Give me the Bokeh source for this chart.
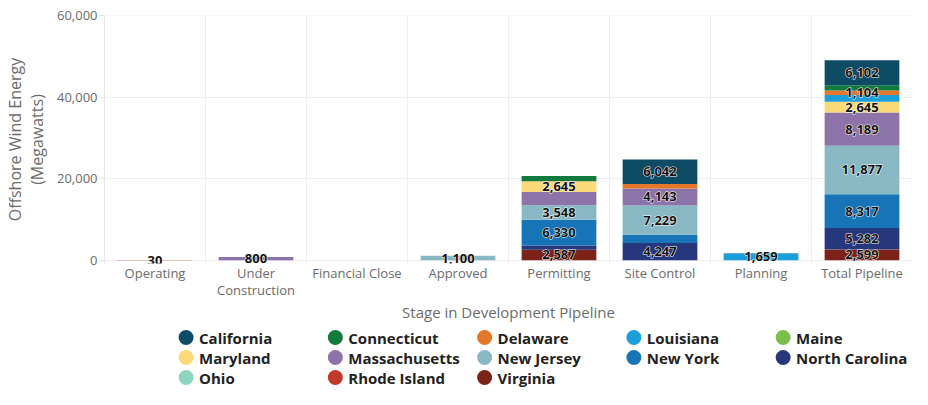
from bokeh.plotting import figure
from bokeh.models import ColumnDataSource, Range1d, FixedTicker, NumeralTickFormatter
from bokeh.layouts import column
from bokeh.core.properties import value
from bokeh.embed import file_html
from bokeh.resources import INLINE

# ---------------- data ----------------
stages = ["Operating", "Under\nConstruction", "Financial Close", "Approved",
          "Permitting", "Site Control", "Planning", "Total Pipeline"]

states = ["California", "Connecticut", "Delaware", "Louisiana", "Maine",
          "Maryland", "Massachusetts", "New Jersey", "New York",
          "North Carolina", "Ohio", "Rhode Island", "Virginia"]

state_colors = ["#0d4c64", "#127a3d", "#e5762a", "#1a9fdb", "#7bbf4a",
                "#fbd977", "#8c74a8", "#87b8c4", "#1774b6",
                "#26377d", "#8ed3bf", "#c0392b", "#7d2218"]

california     = [0, 0, 0, 0, 0, 6042, 60, 6102]
connecticut    = [0, 0, 0, 0, 1300, 0, 0, 1300]
delaware       = [0, 0, 0, 0, 0, 1104, 0, 1104]
louisiana      = [0, 0, 0, 0, 0, 0, 1659, 1659]
maine          = [0, 0, 0, 0, 0, 0, 0, 0]
maryland       = [0, 0, 0, 0, 2645, 0, 0, 2645]
massachusetts  = [0, 800, 0, 0, 3246, 4143, 0, 8189]
new_jersey     = [0, 0, 0, 1100, 3548, 7229, 0, 11877]
new_york       = [0, 0, 0, 0, 6330, 1987, 0, 8317]
north_carolina = [0, 0, 0, 0, 1035, 4247, 0, 5282]
ohio           = [0, 0, 0, 0, 0, 0, 0, 0]
rhode_island   = [30, 0, 0, 0, 0, 0, 0, 30]
virginia       = [12, 0, 0, 0, 2587, 0, 0, 2599]

series = [california, connecticut, delaware, louisiana, maine, maryland,
          massachusetts, new_jersey, new_york, north_carolina, ohio,
          rhode_island, virginia]

# which stage indices carry a value label, per state
labelled = {
    "California": [5, 7], "Delaware": [7], "Louisiana": [6],
    "Maryland": [4, 7], "Massachusetts": [1, 5, 7], "New Jersey": [3, 4, 5, 7],
    "New York": [4, 7], "North Carolina": [5, 7], "Rhode Island": [0],
    "Virginia": [4, 7],
}

y_ticks = [0, 20000, 40000, 60000]

# ---------------- main chart ----------------
FONT = "Open Sans"
GREY = "#6b6b6b"
W = 912
LEFT = 100
P_H, L_H = 324, 65
n = len(stages)
x_centers = [i + 0.5 for i in range(n)]

data = {"x": x_centers}
for s, v in zip(states, series):
    data[s] = v
source = ColumnDataSource(data)

p = figure(width=W, height=P_H, output_backend="svg", toolbar_location=None,
           x_range=Range1d(0, n), y_range=Range1d(-800, 60100),
           min_border_left=LEFT, min_border_right=0, min_border_top=15,
           min_border_bottom=0)
p.outline_line_color = None
p.background_fill_color = "white"

stack_order = states[::-1]          # bottom -> top
stack_colors = state_colors[::-1]
p.vbar_stack(stack_order, x="x", width=0.74, color=stack_colors,
             line_color=None, source=source)

# value labels (white halo underneath, dark text on top)
lx, ly, lt = [], [], []
for si in range(n):
    base = 0
    for s in stack_order:
        v = data[s][si]
        if si in labelled.get(s, []):
            lx.append(x_centers[si])
            ly.append(base + v / 2)
            lt.append(f"{v:,}")
        base += v
label_src = ColumnDataSource(dict(x=lx, y=ly, text=lt))
common = dict(x="x", y="y", text="text", source=label_src,
              text_font=value(FONT), text_font_style="bold",
              text_font_size="13px", text_align="center",
              text_baseline="middle")
p.text(text_color="white", text_outline_color="white", **common)
p.text(text_color="#111111", **common)

# axes
p.xaxis.ticker = FixedTicker(ticks=x_centers)
p.xaxis.major_label_overrides = {x_centers[i]: stages[i] for i in range(n)}
p.xaxis.major_tick_line_color = None
p.xaxis.minor_tick_line_color = None
p.xaxis.major_tick_out = 0
p.xaxis.major_tick_in = 0
p.xaxis.axis_line_color = None
p.xaxis.major_label_standoff = 0
p.xaxis.major_label_text_font = FONT
p.xaxis.major_label_text_font_size = "13px"
p.xaxis.major_label_text_line_height = 0.95
p.xaxis.major_label_text_color = GREY
p.xaxis.axis_label = "Stage in Development Pipeline"
p.xaxis.axis_label_text_font = FONT
p.xaxis.axis_label_text_font_style = "normal"
p.xaxis.axis_label_text_font_size = "15px"
p.xaxis.axis_label_text_color = GREY
p.xaxis.axis_label_standoff = 0

p.yaxis.ticker = FixedTicker(ticks=y_ticks)
p.yaxis.formatter = NumeralTickFormatter(format="0,0")
p.yaxis.major_tick_out = 5
p.yaxis.major_tick_in = 0
p.yaxis.major_tick_line_color = "#e6e6e6"
p.yaxis.minor_tick_line_color = None
p.yaxis.axis_line_color = "#e6e6e6"
p.yaxis.major_label_text_font = FONT
p.yaxis.major_label_text_font_size = "13px"
p.yaxis.major_label_text_color = GREY
p.yaxis.major_label_standoff = 2
p.yaxis.axis_label = "Offshore Wind Energy\n(Megawatts)"
p.yaxis.axis_label_text_font = FONT
p.yaxis.axis_label_text_font_style = "normal"
p.yaxis.axis_label_text_font_size = "16px"
p.yaxis.axis_label_text_line_height = 1.0
p.yaxis.axis_label_text_color = GREY
p.yaxis.axis_label_standoff = 6

p.ygrid.ticker = FixedTicker(ticks=y_ticks)
p.ygrid.grid_line_color = "#eeeeee"
p.xgrid.ticker = FixedTicker(ticks=list(range(1, n)))
p.xgrid.grid_line_color = "#eeeeee"

# ---------------- legend strip (round swatches) ----------------
ncols = 5
col_x0, col_dx = 182, 150
row_y0, row_dy = 13, 20

lg = figure(width=W, height=L_H, output_backend="svg", toolbar_location=None,
            x_range=Range1d(LEFT, W), y_range=Range1d(L_H, 0),
            x_axis_type=None, y_axis_type=None,
            min_border_left=LEFT, min_border_right=0,
            min_border_top=0, min_border_bottom=0)
lg.outline_line_color = None
lg.xgrid.visible = False
lg.ygrid.visible = False

mx = [col_x0 + col_dx * (i % ncols) for i in range(len(states))]
my = [row_y0 + row_dy * (i // ncols) for i in range(len(states))]
lg.scatter(x=mx, y=my, size=15, marker="circle", color=state_colors,
           line_color=None)
lg.text(x=[v + 13 for v in mx], y=my, text=states, text_font=value(FONT),
        text_font_style="bold", text_font_size="15px", text_align="left",
        text_baseline="middle", text_color="#222222")

layout = column(p, lg, spacing=0)
open("out.html", "w").write(file_html(layout, INLINE))
